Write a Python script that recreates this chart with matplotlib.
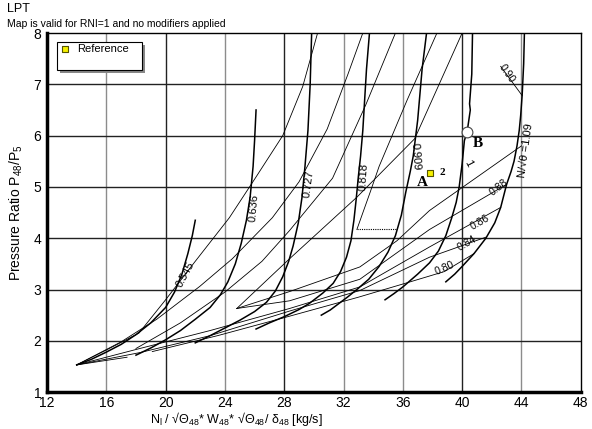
import numpy as np
import matplotlib
matplotlib.use("Agg")
import matplotlib.pyplot as plt
from matplotlib.patches import Rectangle

plt.rcParams['font.family'] = ['Liberation Sans', 'DejaVu Sans']
plt.rcParams['mathtext.fontset'] = 'custom'
plt.rcParams['mathtext.rm'] = 'Liberation Sans'
plt.rcParams['mathtext.it'] = 'Liberation Sans'

# speed lines (corrected speed)
speed_labels = ['0.545', '0.636', '0.727', '0.818', '0.909', '1', 'N/√θ =1.09']
speed_x = [
    [14.0, 15.0, 16.0, 17.0, 18.0, 19.0, 20.0, 20.6, 21.1, 21.5, 21.8, 22.0],
    [18.0, 19.0, 20.0, 21.0, 22.0, 23.0, 23.7, 24.2, 24.7, 25.1, 25.45, 25.7, 25.9, 26.0, 26.1],
    [22.0, 23.0, 24.0, 25.0, 26.0, 26.8, 27.4, 27.9, 28.3, 28.6, 28.95, 29.2, 29.4, 29.6, 29.75, 29.85],
    [26.1, 27.0, 28.0, 29.0, 29.7, 30.6, 31.3, 31.8, 32.2, 32.5, 32.7, 32.85, 33.0, 33.15, 33.3, 33.55, 33.75],
    [30.5, 31.1, 31.7, 32.3, 32.9, 33.7, 34.4, 35.0, 35.5, 35.9, 36.2, 36.5, 36.7, 37.0, 37.3, 37.6],
    [34.8, 35.4, 36.0, 37.0, 37.8, 38.4, 38.9, 39.3, 39.6, 39.8, 40.0, 40.15, 40.35, 40.55, 40.5, 40.65, 40.7],
    [38.9, 39.5, 40.0, 40.8, 41.6, 42.2, 42.6, 43.0, 43.3, 43.5, 43.7, 43.85, 43.95, 44.05, 44.15, 44.2],
]
speed_y = [
    [1.53, 1.64, 1.78, 1.93, 2.12, 2.35, 2.65, 2.95, 3.30, 3.70, 4.05, 4.35],
    [1.72, 1.86, 2.02, 2.20, 2.42, 2.65, 2.90, 3.15, 3.50, 3.90, 4.35, 4.80, 5.40, 5.90, 6.50],
    [1.96, 2.10, 2.25, 2.40, 2.57, 2.75, 2.97, 3.25, 3.55, 3.85, 4.30, 4.80, 5.40, 6.10, 7.00, 8.00],
    [2.23, 2.35, 2.47, 2.61, 2.73, 2.93, 3.12, 3.35, 3.63, 3.95, 4.35, 4.75, 5.20, 5.60, 6.10, 7.30, 8.00],
    [2.50, 2.60, 2.73, 2.86, 3.00, 3.20, 3.45, 3.73, 4.05, 4.45, 4.90, 5.30, 5.60, 6.30, 7.30, 8.00],
    [2.80, 2.92, 3.05, 3.30, 3.52, 3.75, 4.05, 4.40, 4.70, 5.00, 5.45, 5.90, 6.10, 6.50, 6.62, 7.20, 8.00],
    [3.15, 3.30, 3.45, 3.70, 4.00, 4.30, 4.60, 5.05, 5.30, 5.50, 5.80, 6.10, 6.40, 6.80, 7.40, 8.00],
]
speed_lbl_pos = [(21.35, 3.3), (25.95, 4.6), (29.65, 5.05), (33.35, 5.2), (36.85, 5.6), (40.4, 5.45), (44.3, 5.7)]
speed_lbl_rot = [62, 85, 82, 86, -86, -62, 82]

# efficiency contour lines (thin)
eff_x = [
    [14.0, 16.0, 18.2, 20.0, 22.0, 24.3, 26.0, 27.9, 29.25, 30.25],
    [14.0, 17.0, 19.4, 22.3, 24.5, 27.2, 29.0, 30.9, 32.3, 33.3],
    [18.0, 21.0, 24.0, 26.5, 28.36, 31.26, 33.5, 35.5],
    [24.8, 28.36, 33.1, 35.6, 37.8, 44.0],
    [24.8, 28.36, 33.1, 37.8, 43.0],
    [14.0, 18.26, 23.0, 28.36, 33.1, 37.8, 42.6],
    [14.0, 18.26, 23.0, 28.36, 33.1, 37.8, 41.6],
    [19.1, 23.5, 28.36, 33.0, 36.5, 38.8, 40.8],
    [14.0, 17.4],
    [38.3, 36.3, 34.4, 33.8, 32.9],
    [40.0, 36.8, 32.9, 28.36, 24.8],
    [42.6, 44.05],
]
eff_y = [
    [1.53, 1.82, 2.15, 2.80, 3.55, 4.40, 5.15, 6.00, 6.96, 8.00],
    [1.53, 1.98, 2.42, 3.06, 3.60, 4.40, 5.10, 6.13, 7.20, 8.00],
    [1.85, 2.35, 2.95, 3.55, 4.15, 5.17, 6.60, 8.00],
    [2.63, 2.96, 3.44, 3.95, 4.54, 5.80],
    [2.63, 2.78, 3.20, 4.17, 5.05],
    [1.53, 1.85, 2.20, 2.63, 3.05, 3.83, 4.60],
    [1.53, 1.77, 2.10, 2.58, 2.98, 3.63, 4.02],
    [1.79, 2.10, 2.48, 2.85, 3.15, 3.35, 3.70],
    [1.53, 1.68],
    [8.00, 6.70, 5.40, 4.90, 4.17],
    [8.00, 5.94, 4.80, 3.60, 2.63],
    [7.35, 6.78],
]
dotted_x = [32.9, 35.6]
dotted_y = [4.17, 4.17]

eff_labels = ['0.80', '0.84', '0.86', '0.88', '0.90']
eff_lbl_pos = [(38.8, 3.42), (40.3, 3.9), (41.2, 4.3), (42.45, 5.0), (43.0, 7.2)]
eff_lbl_rot = [24, 30, 30, 38, -55]

ref_x, ref_y = [37.84], [5.28]
pt_b_x, pt_b_y = [40.33], [6.07]

fig = plt.figure(figsize=(5.92, 4.29), dpi=100)
ax = fig.add_axes([0.0794, 0.086, 0.9016, 0.837])
ax.set_xlim(12, 48)
ax.set_ylim(1, 8)
ax.set_xticks(np.arange(12, 49, 4))
ax.set_yticks(np.arange(1, 9, 1))
ax.tick_params(axis='x', length=0, labelsize=10, pad=2.5)
ax.tick_params(axis='y', length=0, labelsize=10, pad=4)

# grid: some verticals darker than others, as in the original
for gx in [16, 24, 32, 36, 44]:
    ax.axvline(gx, color='#8c8c8c', lw=1.0, zorder=0)
for gx in [20, 28, 40]:
    ax.axvline(gx, color='#222222', lw=1.0, zorder=0)
for gy in range(2, 8):
    ax.axhline(gy, color='#222222', lw=1.0, zorder=0)

ax.spines['left'].set_linewidth(2.5)
ax.spines['bottom'].set_linewidth(2.5)
ax.spines['top'].set_linewidth(1.0)
ax.spines['right'].set_linewidth(1.0)

for xs, ys in zip(eff_x, eff_y):
    ax.plot(xs, ys, color='black', lw=0.6, zorder=2)
ax.plot(dotted_x, dotted_y, color='black', lw=0.8, ls=(0, (1, 1)), zorder=2)

for xs, ys in zip(speed_x, speed_y):
    ax.plot(xs, ys, color='black', lw=1.1, zorder=3)

for lbl, (lx, ly), r in zip(speed_labels, speed_lbl_pos, speed_lbl_rot):
    ax.text(lx, ly, lbl, rotation=r, fontsize=8, ha='center', va='center', zorder=4)
for lbl, (lx, ly), r in zip(eff_labels, eff_lbl_pos, eff_lbl_rot):
    ax.text(lx, ly, lbl, rotation=r, fontsize=7.5, ha='center', va='center', zorder=4)

ax.scatter(ref_x, ref_y, marker='s', s=14, color='#f5f000', edgecolors='#555500', lw=0.8, zorder=5)
ax.text(38.45, 5.28, '2', fontsize=8, fontweight='bold', family='Liberation Serif', va='center')
ax.text(37.3, 5.08, 'A', fontsize=11, fontweight='bold', family='Liberation Serif', ha='center', va='center')
ax.scatter(pt_b_x, pt_b_y, marker='o', s=60, facecolor='white', edgecolors='#444444', lw=0.8, zorder=5)
ax.text(41.05, 5.85, 'B', fontsize=11, fontweight='bold', family='Liberation Serif', ha='center', va='center')

# legend box with shadow
ax.add_patch(Rectangle((0.025, 0.889), 0.159, 0.077, transform=ax.transAxes, facecolor='#888888', edgecolor='none', zorder=6))
ax.add_patch(Rectangle((0.019, 0.898), 0.159, 0.077, transform=ax.transAxes, facecolor='white', edgecolor='black', lw=0.8, zorder=7))
ax.scatter([0.034], [0.956], transform=ax.transAxes, marker='s', s=14, color='#f5f000', edgecolors='#555500', lw=0.8, zorder=8)
ax.text(0.056, 0.956, 'Reference', transform=ax.transAxes, fontsize=8, va='center', zorder=8)

ax.set_ylabel('Pressure Ratio P$_{48}$/P$_5$', fontsize=10, labelpad=6)
fig.text(0.40, 0.002, 'N$_\\mathregular{l}$ / √Θ$_{48}$* W$_{48}$* √Θ$_{48}$/ δ$_{48}$ [kg/s]', fontsize=9, ha='center', va='bottom')
fig.text(0.012, 0.978, 'LPT', fontsize=9, va='center')
fig.text(0.012, 0.945, 'Map is valid for RNI=1 and no modifiers applied', fontsize=7.5, va='center')

fig.savefig('out.png', dpi=100)
